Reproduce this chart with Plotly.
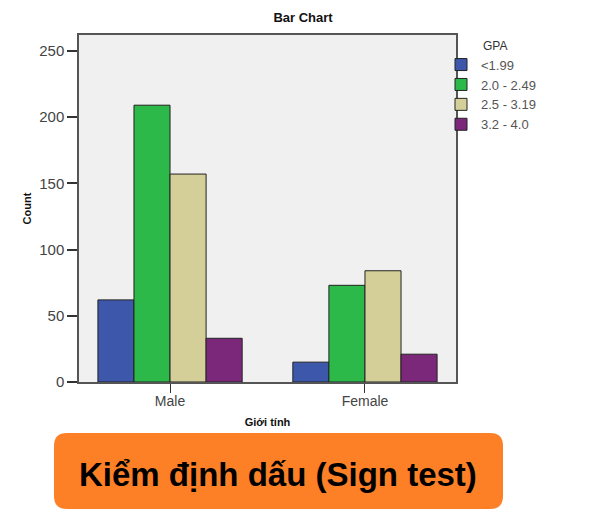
import plotly.graph_objs as go

# data
genders = ['Male', 'Female']
gpa_groups = ['<1.99', '2.0 - 2.49', '2.5 - 3.19', '3.2 - 4.0']
counts = {
    '<1.99': [62, 15],
    '2.0 - 2.49': [209, 73],
    '2.5 - 3.19': [157, 84],
    '3.2 - 4.0': [33, 21],
}
bar_colors = ['#3d57ab', '#2db84a', '#d4cf98', '#7b287a']
y_ticks = [0, 50, 100, 150, 200, 250]

# page is drawn with an 8px body margin, so work in page pixels and shift
OFF = 8
W, H = 602 - OFF, 515 - OFF
L, R, T, B = 79, 456, 35, 382   # plot area in page pixels

traces = []
for name, col in zip(gpa_groups, bar_colors):
    traces.append(go.Bar(x=genders, y=counts[name], name=name,
                         marker=dict(color=col, line=dict(color='#222222', width=1))))


def px_x(v):
    return (v - L) / (R - L)


def px_y(v):
    return (B - v) / (B - T)


# rounded orange box at the bottom
bx0, bx1, by0, by1, rad = 54, 503, 433, 509, 13
path = ('M {a},{b} L {c},{b} Q {d},{b} {d},{e} L {d},{f} Q {d},{g} {c},{g} '
        'L {a},{g} Q {h},{g} {h},{f} L {h},{e} Q {h},{b} {a},{b} Z').format(
    a=px_x(bx0 + rad), c=px_x(bx1 - rad), d=px_x(bx1), h=px_x(bx0),
    b=px_y(by0), e=px_y(by0 + rad), f=px_y(by1 - rad), g=px_y(by1))

layout = go.Layout(
    width=W, height=H,
    margin=dict(l=L - OFF, r=W + OFF - R, t=T - OFF, b=H + OFF - B, pad=0),
    paper_bgcolor='white',
    plot_bgcolor='#f0f0f0',
    font=dict(family='Liberation Sans, Arial', color='#444444', size=14),
    title=dict(text='<b>Bar Chart</b>', xref='container', x=(303 - OFF) / W, xanchor='center',
               y=1 - (17 - OFF) / H, yanchor='middle', font=dict(size=13, color='#111111')),
    barmode='group', bargap=0.26, bargroupgap=0,
    xaxis=dict(range=[-0.467, 1.467], showline=True, linecolor='#555555', linewidth=1.5,
               mirror=True, ticks='outside', ticklen=9, tickcolor='#333333', tickwidth=1,
               showgrid=False, tickfont=dict(size=14), ticklabelstandoff=-4,
               title=dict(text='<b>Giới tính</b>', standoff=11,
                          font=dict(size=11, color='#111111'))),
    yaxis=dict(range=[0, 262], tickvals=y_ticks, showline=True, linecolor='#555555',
               linewidth=1.5, mirror=True, ticks='outside', ticklen=10,
               tickcolor='#333333', tickwidth=1.5, showgrid=False, zeroline=False,
               tickfont=dict(size=15),
               title=dict(text='<b>Count</b>', standoff=5,
                          font=dict(size=11, color='#111111'))),
    legend=dict(x=px_x(441), xanchor='left', y=px_y(34), yanchor='top',
                title=dict(text='            GPA', font=dict(size=12, color='#333333')),
                font=dict(size=13, color='#555555'), itemwidth=30,
                tracegroupgap=0, bgcolor='rgba(0,0,0,0)'),
    shapes=[dict(type='path', xref='paper', yref='paper', path=path,
                 fillcolor='#fd7f26', line=dict(width=0), layer='above')],
    annotations=[dict(text='<b>Kiểm định dấu (Sign test)</b>', xref='paper', yref='paper',
                      x=px_x(278), y=px_y(474), yanchor='middle', showarrow=False,
                      font=dict(size=33, color='#000000',
                                family='Liberation Sans, Arial'))],
)

fig = go.Figure(data=traces, layout=layout)
fig.write_html('out.html')
